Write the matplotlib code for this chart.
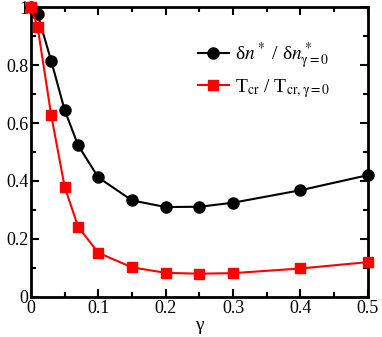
import matplotlib
matplotlib.use("Agg")
from matplotlib import pyplot as plt
from matplotlib.ticker import MultipleLocator, FuncFormatter

gamma = [0.0, 0.01, 0.03, 0.05, 0.07, 0.1, 0.15, 0.2, 0.25, 0.3, 0.4, 0.5]
dn_ratio = [1.0, 0.975, 0.815, 0.645, 0.523, 0.412, 0.333, 0.310, 0.311, 0.325, 0.368, 0.420]
tcr_ratio = [1.0, 0.930, 0.628, 0.380, 0.242, 0.152, 0.102, 0.083, 0.080, 0.082, 0.098, 0.120]

plt.rcParams["font.family"] = ["Liberation Serif", "DejaVu Serif"]
plt.rcParams["mathtext.fontset"] = "stix"

fig = plt.figure(figsize=(3.82, 3.37), dpi=100)
ax = fig.add_axes([0.081, 0.119, 0.882, 0.860])

ax.plot(gamma, dn_ratio, "-o", color="black", lw=1.5, ms=8, clip_on=False,
        label=r"δ$n^*$ / δ$n^*_{\mathrm{γ=0}}$", zorder=3)
ax.plot(gamma, tcr_ratio, "-s", color="red", lw=1.5, ms=7, clip_on=False,
        label=r"T$_{\rm cr}$ / T$_{\rm cr,γ=0}$", zorder=4)

ax.set_xlim(0, 0.5)
ax.set_ylim(0, 1)
fmt = FuncFormatter(lambda v, p: "%g" % round(v, 3))
ax.xaxis.set_major_locator(MultipleLocator(0.1))
ax.xaxis.set_minor_locator(MultipleLocator(0.05))
ax.yaxis.set_major_locator(MultipleLocator(0.2))
ax.yaxis.set_minor_locator(MultipleLocator(0.1))
ax.xaxis.set_major_formatter(fmt)
ax.yaxis.set_major_formatter(fmt)
ax.tick_params(which="both", direction="in", top=True, right=True, labelsize=13, width=1.5)
ax.tick_params(which="major", length=6, pad=2)
ax.tick_params(which="minor", length=3.5)
for s in ax.spines.values():
    s.set_linewidth(2)

ax.set_xlabel("γ", fontsize=14, labelpad=0)
ax.legend(loc="upper right", bbox_to_anchor=(0.94, 0.945), frameon=False, fontsize=14,
          handlelength=1.6, handletextpad=0.3, labelspacing=0.3)

fig.savefig("out.png", dpi=100)
